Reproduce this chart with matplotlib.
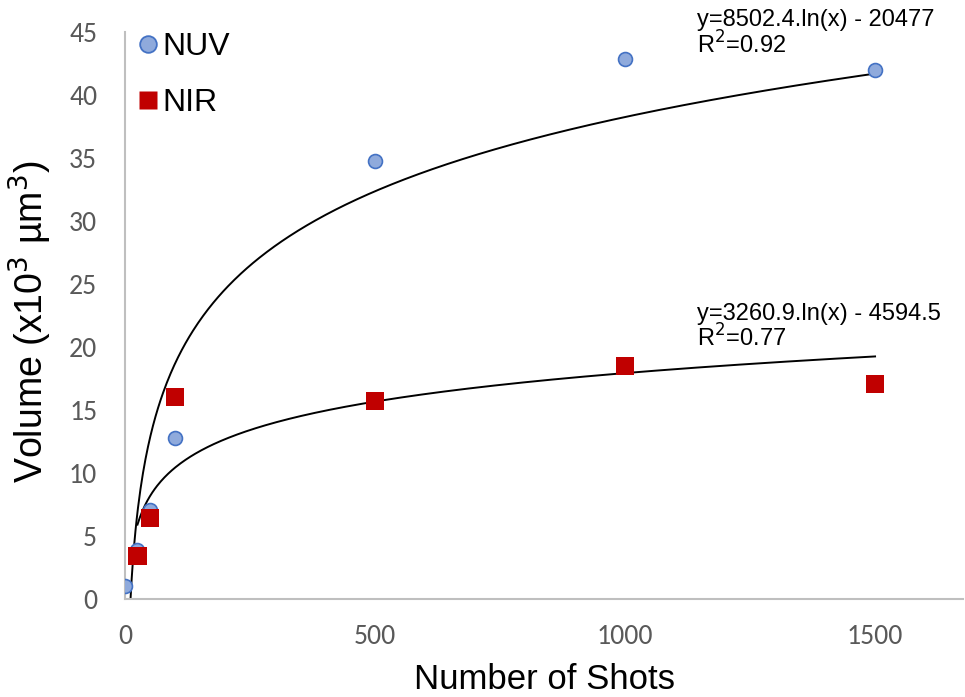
import matplotlib.pyplot as plt
from matplotlib.lines import Line2D
import numpy as np

# data (volume in 10^3 um^3)
nuv_shots = [1, 25, 50, 100, 500, 1000, 1500]
nuv_vol = [1.0, 3.85, 7.1, 12.75, 34.75, 42.85, 42.0]
nir_shots = [25, 50, 100, 500, 1000, 1500]
nir_vol = [3.4, 6.4, 16.05, 15.7, 18.5, 17.05]

# log trendline coefficients (y = a*ln(x) + b, in um^3)
nuv_fit = (8502.4, -20477)
nir_fit = (3260.9, -4594.5)
nuv_eq = ["y=8502.4.ln(x) - 20477", "R$^2$=0.92"]
nir_eq = ["y=3260.9.ln(x) - 4594.5", "R$^2$=0.77"]

x_ticks = [0, 500, 1000, 1500]
y_ticks = [0, 5, 10, 15, 20, 25, 30, 35, 40, 45]

fig = plt.figure(figsize=(9.65, 6.97), dpi=100)
ax = fig.add_axes([0.1295, 0.1406, 0.8685, 0.8134])

# trendlines
xs = np.linspace(1, 1500, 600)
ax.plot(xs, (nuv_fit[0] * np.log(xs) + nuv_fit[1]) / 1000, color="black", lw=1.4, zorder=2)
xs2 = np.linspace(25, 1500, 600)
ax.plot(xs2, (nir_fit[0] * np.log(xs2) + nir_fit[1]) / 1000, color="black", lw=1.4, zorder=2)

ax.scatter(nuv_shots, nuv_vol, s=100, marker="o", facecolor="#8FAADC", edgecolor="#4472C4",
           linewidth=1.2, zorder=3)
ax.scatter(nir_shots, nir_vol, s=170, marker="s", facecolor="#C00000", edgecolor="none",
           zorder=3)

ax.set_xlim(0, 1676)
ax.set_ylim(0, 45)
ax.set_xticks(x_ticks)
ax.set_yticks(y_ticks)

tick_family = ["Carlito", "Liberation Sans Narrow", "Open Sans"]
for lab in ax.get_xticklabels() + ax.get_yticklabels():
    lab.set_fontfamily(tick_family)
    lab.set_fontsize(20)
    lab.set_color("#595959")
ax.tick_params(axis="x", length=0, pad=18)
ax.tick_params(axis="y", length=0, pad=20)

for s in ["top", "right"]:
    ax.spines[s].set_visible(False)
for s in ["left", "bottom"]:
    ax.spines[s].set_color("#BFBFBF")
    ax.spines[s].set_linewidth(1.5)

ax.set_xlabel("Number of Shots", fontsize=25, family="Liberation Sans")
ax.set_ylabel("Volume (x10$^3$ \u00b5m$^3$)", fontsize=27, family="Liberation Sans")
ax.xaxis.set_label_coords(0.5, -0.113)
ax.yaxis.set_label_coords(-0.085, 0.4885)

handles = [
    Line2D([], [], ls="none", marker="o", markersize=12, markerfacecolor="#8FAADC",
           markeredgecolor="#4472C4", markeredgewidth=1.3),
    Line2D([], [], ls="none", marker="s", markersize=13.5, markerfacecolor="#C00000",
           markeredgecolor="none"),
]
ax.legend(handles, ["NUV", "NIR"], loc="upper left", frameon=False,
          prop={"family": "Liberation Sans", "size": 23},
          handlelength=0.6, handletextpad=0.15, labelspacing=0.82,
          borderaxespad=0, borderpad=0, bbox_to_anchor=(0.016, 1.0))

ax.text(1144, 45.95, nuv_eq[0], fontsize=17, family="Liberation Sans", va="center")
ax.text(1144, 43.95, nuv_eq[1], fontsize=17, family="Liberation Sans", va="center")
ax.text(1144, 22.6, nir_eq[0], fontsize=17, family="Liberation Sans", va="center")
ax.text(1144, 20.7, nir_eq[1], fontsize=17, family="Liberation Sans", va="center")

fig.savefig("out.png", dpi=100)
